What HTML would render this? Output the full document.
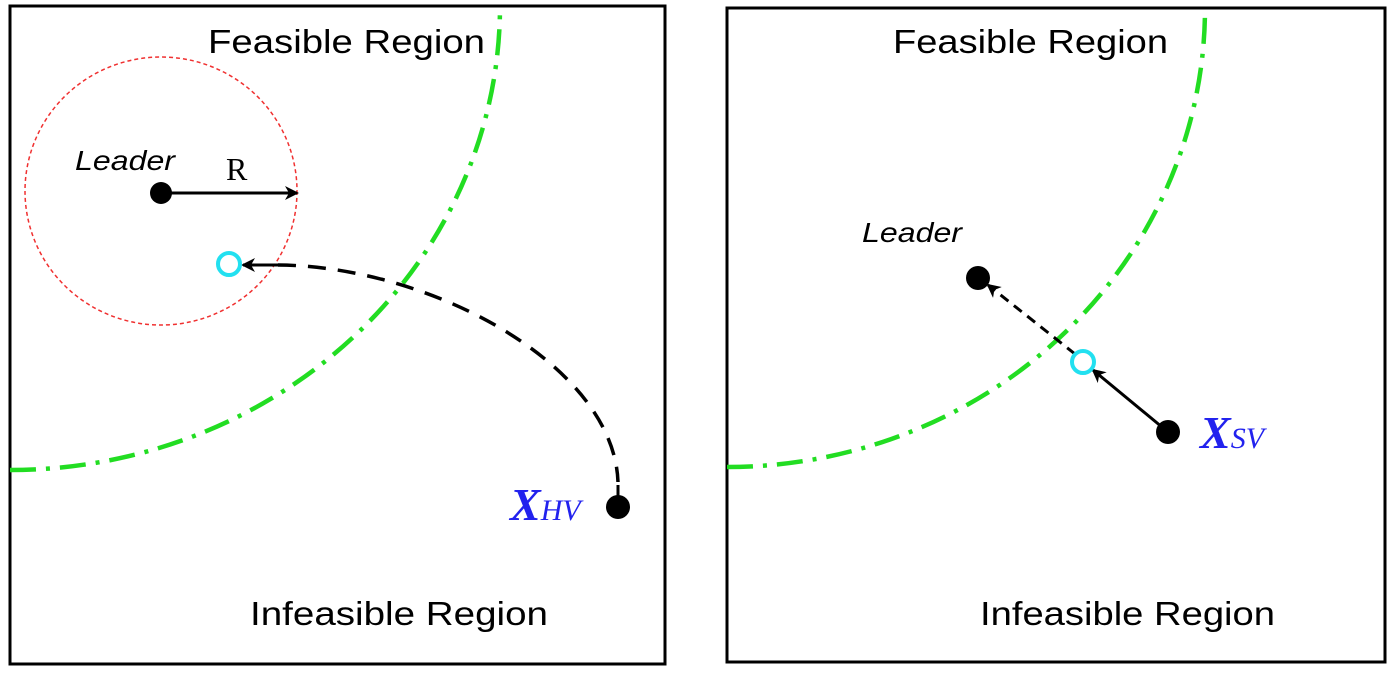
<!DOCTYPE html>
<html><head><style>body{margin:0;background:#fff}</style></head><body>
<svg width="1392" height="671" viewBox="0 0 1392 671" xmlns="http://www.w3.org/2000/svg">
<defs>
<marker id="ah" markerWidth="16" markerHeight="16" refX="12" refY="7" orient="auto" markerUnits="userSpaceOnUse"><path d="M0,0 L14,7 L0,14 L4,7 Z" fill="#000"/></marker>
<clipPath id="cl"><rect x="10" y="6" width="655" height="658"/></clipPath>
<clipPath id="cr"><rect x="727" y="8" width="658" height="654"/></clipPath>
</defs>
<rect x="10" y="6" width="655" height="658" fill="none" stroke="#000" stroke-width="3"/>
<rect x="727" y="8" width="658" height="654" fill="none" stroke="#000" stroke-width="3"/>
<g clip-path="url(#cl)">
<path d="M10,470 A490,464 0 0 0 500,6" fill="none" stroke="#22dd22" stroke-width="4.5" stroke-dasharray="26,10,4,10"/>
</g>
<g clip-path="url(#cr)">
<path d="M727,467 A478,459 0 0 0 1205,8" fill="none" stroke="#22dd22" stroke-width="4.5" stroke-dasharray="26,10,4,10"/>
</g>
<ellipse cx="161" cy="191" rx="136" ry="134" fill="none" stroke="#f03030" stroke-width="1.5" stroke-dasharray="4,3"/>
<line x1="161" y1="193" x2="297" y2="193" stroke="#000" stroke-width="3" marker-end="url(#ah)"/>
<circle cx="161" cy="193" r="11" fill="#000"/>
<path d="M278,265 C430,266 614,365 618,482" fill="none" stroke="#000" stroke-width="3.5" stroke-dasharray="18,12"/>
<line x1="278" y1="265" x2="243" y2="265" stroke="#000" stroke-width="3" marker-end="url(#ah)"/>
<line x1="618" y1="485" x2="618" y2="505" stroke="#000" stroke-width="3"/>
<circle cx="618" cy="507" r="12" fill="#000"/>
<circle cx="229" cy="264" r="11" fill="#fff" stroke="#22e0f0" stroke-width="4"/>
<text x="208" y="53" font-family="Liberation Sans, sans-serif" font-size="33" textLength="277" lengthAdjust="spacingAndGlyphs">Feasible Region</text>
<text x="250" y="625" font-family="Liberation Sans, sans-serif" font-size="33" textLength="298" lengthAdjust="spacingAndGlyphs">Infeasible Region</text>
<text x="75" y="170" font-family="Liberation Sans, sans-serif" font-size="28" font-style="italic" textLength="100" lengthAdjust="spacingAndGlyphs">Leader</text>
<text x="226" y="180" font-family="Liberation Serif, serif" font-size="32">R</text>
<text x="510" y="520" font-family="Liberation Serif, serif" font-style="italic" font-weight="bold" fill="#2222ee"><tspan font-size="46">X</tspan><tspan font-size="30" font-weight="normal">HV</tspan></text>
<line x1="1075" y1="354" x2="988" y2="285" stroke="#000" stroke-width="3" stroke-dasharray="10,7" marker-end="url(#ah)"/>
<line x1="1168" y1="432" x2="1093" y2="370" stroke="#000" stroke-width="3" marker-end="url(#ah)"/>
<circle cx="978" cy="278" r="12" fill="#000"/>
<circle cx="1168" cy="432" r="12" fill="#000"/>
<circle cx="1083" cy="362" r="11" fill="#fff" stroke="#22e0f0" stroke-width="4"/>
<text x="893" y="53" font-family="Liberation Sans, sans-serif" font-size="33" textLength="275" lengthAdjust="spacingAndGlyphs">Feasible Region</text>
<text x="980" y="625" font-family="Liberation Sans, sans-serif" font-size="33" textLength="295" lengthAdjust="spacingAndGlyphs">Infeasible Region</text>
<text x="862" y="242" font-family="Liberation Sans, sans-serif" font-size="28" font-style="italic" textLength="100" lengthAdjust="spacingAndGlyphs">Leader</text>
<text x="1200" y="448" font-family="Liberation Serif, serif" font-style="italic" font-weight="bold" fill="#2222ee"><tspan font-size="46">X</tspan><tspan font-size="30" font-weight="normal">SV</tspan></text>
</svg>
</body></html>
